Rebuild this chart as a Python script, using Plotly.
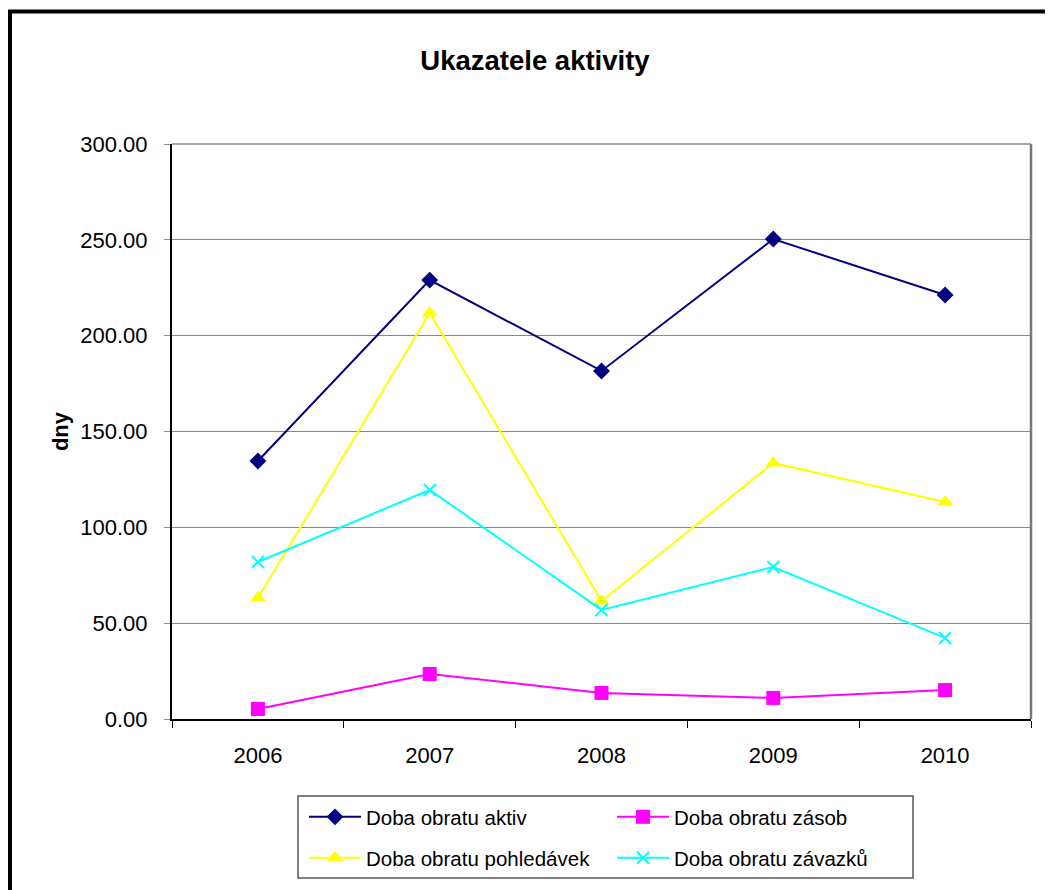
import plotly.graph_objects as go

years = ["2006", "2007", "2008", "2009", "2010"]
aktiv = [134.6, 229.0, 181.6, 250.4, 221.2]
zasob = [5.2, 23.5, 13.6, 11.0, 15.1]
pohledavek = [63.1, 211.8, 61.6, 133.6, 113.2]
zavazku = [81.9, 119.5, 56.9, 79.3, 42.3]

OFF = 8  # page body margin
W, H = 1053 - OFF, 890 - OFF
# plot area in screenshot pixels
PX0, PX1, PY0, PY1 = 172, 1031, 144, 719
L, R, T, B = PX0 - OFF, (W + OFF) - PX1, PY0 - OFF, (H + OFF) - PY1
pw, ph = PX1 - PX0, PY1 - PY0

def px_x(p):
    return (p - PX0) / pw

def px_y(p):
    return (PY1 - p) / ph

fig = go.Figure()
fig.add_trace(go.Scatter(x=years, y=aktiv, name="Doba obratu aktiv", mode="lines+markers",
                         line=dict(color="#000080", width=2),
                         marker=dict(symbol="diamond", size=13, color="#000080"),
                         legend="legend"))
fig.add_trace(go.Scatter(x=years, y=zasob, name="Doba obratu zásob", mode="lines+markers",
                         line=dict(color="#FF00FF", width=2),
                         marker=dict(symbol="square", size=14, color="#FF00FF"),
                         legend="legend"))
fig.add_trace(go.Scatter(x=years, y=pohledavek, name="Doba obratu pohledávek", mode="lines+markers",
                         line=dict(color="#FFFF00", width=2),
                         marker=dict(symbol="triangle-up", size=14, color="#FFFF00"),
                         legend="legend2"))
fig.add_trace(go.Scatter(x=years, y=zavazku, name="Doba obratu závazků", mode="lines+markers",
                         line=dict(color="#00FFFF", width=2),
                         marker=dict(symbol="x-thin", size=12, color="#00FFFF",
                                     line=dict(color="#00FFFF", width=2)),
                         legend="legend2"))

leg_common = dict(orientation="h", xanchor="left", yanchor="middle",
                  entrywidth=241, entrywidthmode="pixels", itemwidth=52,
                  borderwidth=0, bgcolor="rgba(0,0,0,0)",
                  font=dict(size=20.5), traceorder="normal")

fig.update_layout(
    width=W, height=H,
    margin=dict(l=L, r=R, t=T, b=B),
    paper_bgcolor="white", plot_bgcolor="white",
    font=dict(family="Arial, Liberation Sans, sans-serif", size=22, color="black"),
    title=dict(text="<b>Ukazatele aktivity</b>", x=(535 - OFF) / W, xref="container", xanchor="center",
               y=1 - (60 - OFF) / H, yref="container", yanchor="middle",
               font=dict(size=27.5, color="black")),
    showlegend=True,
    legend=dict(x=px_x(304), y=px_y(817), **leg_common),
    legend2=dict(x=px_x(304), y=px_y(858), **leg_common),
    xaxis=dict(type="category", tickson="boundaries", ticks="outside", ticklen=7,
               tickcolor="black", showline=True, linecolor="black", linewidth=2,
               showgrid=False, zeroline=False, tickfont=dict(size=22), ticklabelstandoff=16,
               range=[-0.5, 4.5]),
    yaxis=dict(range=[0, 300], dtick=50, tickformat=".2f", ticks="outside", ticklen=6,
               tickcolor="#888888", showline=True, linecolor="black", linewidth=2,
               showgrid=True, gridcolor="#888888", gridwidth=1, zeroline=False,
               tickfont=dict(size=22), ticklabelstandoff=12,
               title=dict(text="<b>dny</b>", font=dict(size=22), standoff=6)),
)

shapes = [
    # plot area border (grey top/right)
    dict(type="line", xref="paper", yref="paper", x0=0, x1=1, y0=1, y1=1,
         line=dict(color="#888888", width=1.5)),
    dict(type="line", xref="paper", yref="paper", x0=1, x1=1, y0=0, y1=1,
         line=dict(color="#777777", width=2.5)),
    # legend box
    dict(type="rect", xref="paper", yref="paper", x0=px_x(298), x1=px_x(913),
         y0=px_y(878), y1=px_y(796), line=dict(color="#555555", width=1.5),
         fillcolor="white", layer="below"),
    # outer chart border
    dict(type="rect", xref="paper", yref="paper", x0=px_x(10), x1=px_x(1100),
         y0=px_y(950), y1=px_y(11.5), line=dict(color="black", width=4), layer="below"),
]
fig.update_layout(shapes=shapes)

fig.write_html("out.html")
